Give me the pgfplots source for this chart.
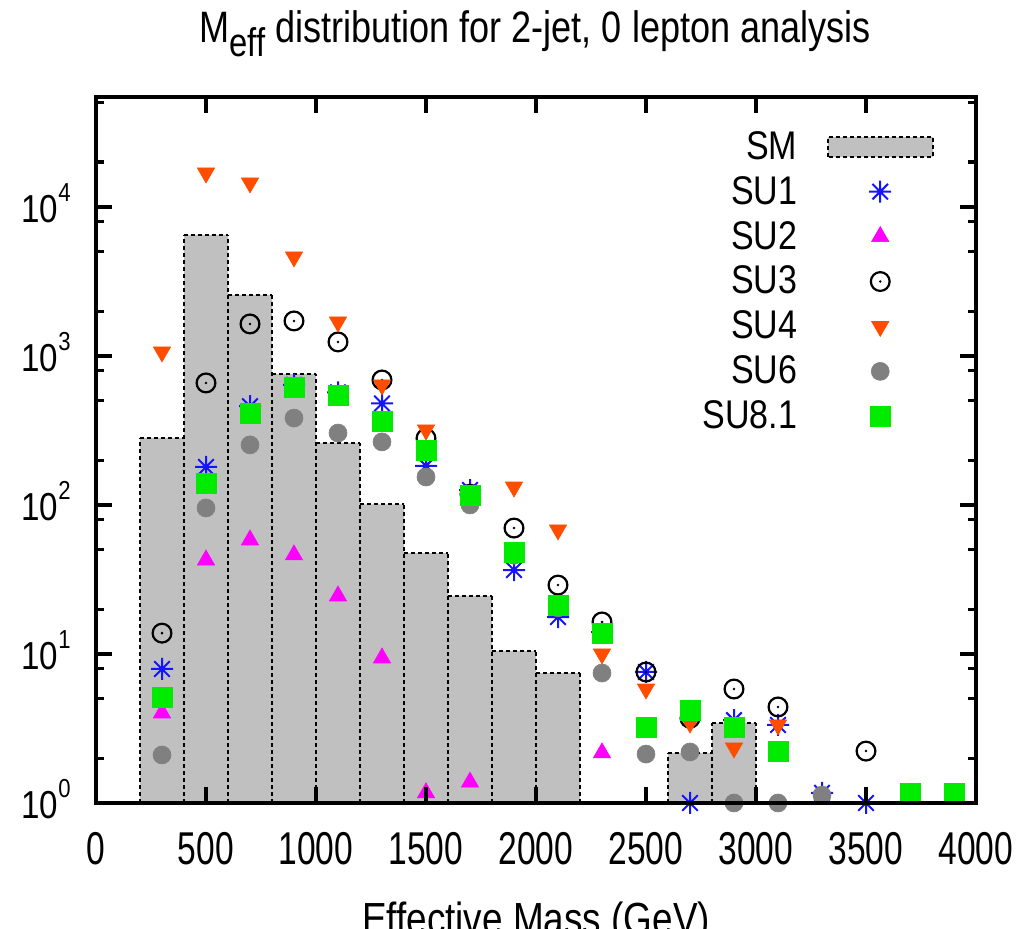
\documentclass[border=0pt]{standalone}
\usepackage{fontspec}
\setmainfont{Liberation Sans}[FakeStretch=0.82]
\newfontfamily\fX{Liberation Sans}[FakeStretch=0.73]
\newfontfamily\fY{Liberation Sans}[FakeStretch=0.85]
\newfontfamily\fL{Liberation Sans}[FakeStretch=0.85]
\usepackage{pgfplots}
\pgfplotsset{compat=1.18}
\definecolor{smgray}{RGB}{192,192,192}
\definecolor{cSUa}{RGB}{20,20,255}
\definecolor{cSUb}{RGB}{255,0,255}
\definecolor{cSUd}{RGB}{255,77,0}
\definecolor{cSUf}{RGB}{128,128,128}
\definecolor{cSUh}{RGB}{0,235,0}
\pgfdeclareplotmark{star8}{%
  \pgfpathmoveto{\pgfpointpolar{0}{\pgfplotmarksize}}\pgfpathlineto{\pgfpointpolar{180}{\pgfplotmarksize}}%
  \pgfpathmoveto{\pgfpointpolar{90}{\pgfplotmarksize}}\pgfpathlineto{\pgfpointpolar{270}{\pgfplotmarksize}}%
  \pgfpathmoveto{\pgfpointpolar{45}{\pgfplotmarksize}}\pgfpathlineto{\pgfpointpolar{225}{\pgfplotmarksize}}%
  \pgfpathmoveto{\pgfpointpolar{135}{\pgfplotmarksize}}\pgfpathlineto{\pgfpointpolar{315}{\pgfplotmarksize}}%
  \pgfusepathqstroke}
\pgfdeclareplotmark{odot}{%
  \pgfpathcircle{\pgfpointorigin}{\pgfplotmarksize}\pgfusepathqstroke
  \pgfpathcircle{\pgfpointorigin}{0.7pt}\pgfusepathqfill}
\pgfplotsset{
  markleg/.style={legend image code/.code={\draw[##1] plot coordinates {(26pt,0pt)};}},
  barleg/.style={legend image code/.code={\draw[fill=smgray, draw=black, dash pattern=on 2pt off 1.5pt, line width=1pt] (0pt,-5pt) rectangle (52.5pt,5pt);}},
  smedge/.style={draw=black, dash pattern=on 2pt off 1.5pt, line width=1pt, forget plot},
}
\begin{document}
\begin{tikzpicture}
\path[use as bounding box] (0,0) rectangle (514.5pt,464.5pt);
\begin{axis}[
  at={(48pt,63pt)}, anchor=south west,
  scale only axis, width=440pt, height=353pt,
  xmin=0, xmax=4000, ymode=log, ymin=1, ymax=54700,
  axis on top, clip mode=individual,
  axis line style={line width=1.6pt},
  every tick/.style={black, line width=1.6pt},
  major tick length=8pt, minor tick length=4pt,
  xtick={0,500,...,4000},
  ytick={1,10,100,1000,10000},
  yticklabels={{10\raisebox{10.5pt}{\fontsize{13pt}{13pt}\selectfont 0}},
               {10\raisebox{10.5pt}{\fontsize{13pt}{13pt}\selectfont 1}},
               {10\raisebox{10.5pt}{\fontsize{13pt}{13pt}\selectfont 2}},
               {10\raisebox{10.5pt}{\fontsize{13pt}{13pt}\selectfont 3}},
               {10\raisebox{10.5pt}{\fontsize{13pt}{13pt}\selectfont 4}}},
  minor ytick={2,5,8,20,50,80,200,500,800,2000,5000,8000,20000,50000},
  xticklabel style={font=\fX\fontsize{23pt}{23pt}\selectfont, anchor=base, yshift=-31pt, inner sep=0pt},
  yticklabel style={font=\fY\fontsize{19.5pt}{19.5pt}\selectfont, anchor=base east, inner sep=0pt, xshift=-12.5pt, yshift=-8pt},
  /pgf/number format/assume math mode=true,
  /pgf/number format/set thousands separator={},
  xlabel={Effective Mass (GeV)},
  xlabel style={at={(axis description cs:0.5,0)}, anchor=base, yshift=-66pt, inner sep=0pt, font=\fontsize{22.5pt}{22.5pt}\selectfont},
  legend style={draw=none, fill=none, at={(axis description cs:0.953,0.952)}, anchor=north east,
    inner sep=0pt, row sep=7pt, column sep=15pt, font=\fL\fontsize{20pt}{20pt}\selectfont,
    nodes={inner sep=0pt}},
  legend cell align=right, legend plot pos=right,
]
% SM histogram: fill
\addplot[ybar interval, fill=smgray, draw=none, barleg]
  coordinates {(200,282) (400,6490) (600,2570) (800,757) (1000,261) (1200,101) (1400,47.6) (1600,24.5) (1800,10.5) (2000,7.45) (2200,7.45)};
\addlegendentry{SM}
\addplot[ybar interval, fill=smgray, draw=none, forget plot]
  coordinates {(2600,2.17) (2800,3.44) (3000,3.44)};
% SM histogram: dashed bar tops
\addplot[jump mark left, smedge]
  coordinates {(200,282) (400,6490) (600,2570) (800,757) (1000,261) (1200,101) (1400,47.6) (1600,24.5) (1800,10.5) (2000,7.45) (2200,7.45)};
\addplot[jump mark left, smedge]
  coordinates {(2600,2.17) (2800,3.44) (3000,3.44)};
% SM histogram: dashed bar edges
\addplot[ycomb, smedge]
  coordinates {(200,282) (400,6490) (600,6490) (800,2570) (1000,757) (1200,261) (1400,101) (1600,47.6) (1800,24.5) (2000,10.5) (2200,7.45) (2600,2.17) (2800,3.44) (3000,3.44)};
% SU1
\addplot[only marks, mark=star8, mark size=5.5pt, color=cSUa, line width=1pt, markleg]
  coordinates {(300,7.93) (500,180) (700,460) (900,640) (1100,570) (1300,480) (1500,183) (1700,126) (1900,36.6) (2100,17.7) (2300,14) (2500,7.57) (2700,1.0) (2900,3.6) (3100,3.34) (3300,1.17) (3500,1.0)};
\addlegendentry{SU1}
% SU2
\addplot[only marks, mark=triangle*, mark size=5pt, color=cSUb, mark options={fill=cSUb, draw=cSUb, line width=0.3pt}, markleg]
  coordinates {(300,4.02) (500,42.7) (700,58.2) (900,46.2) (1100,24.5) (1300,9.4) (1500,1.17) (1700,1.38) (2300,2.17)};
\addlegendentry{SU2}
% SU3
\addplot[only marks, mark=odot, mark size=4.7pt, color=black, line width=1.1pt, markleg]
  coordinates {(300,13.8) (500,659) (700,1640) (900,1718) (1100,1242) (1300,690) (1500,280) (1700,118) (1900,70) (2100,29) (2300,16.4) (2500,7.57) (2700,3.7) (2900,5.82) (3100,4.41) (3500,2.23)};
\addlegendentry{SU3}
% SU4
\addplot[only marks, mark=triangle*, mark size=5pt, color=cSUd, mark options={rotate=180, fill=cSUd, draw=cSUd, line width=0.3pt}, markleg]
  coordinates {(300,1064) (500,16900) (700,14500) (900,4620) (1100,1690) (1300,639) (1500,319) (1700,122) (1900,132) (2100,68) (2300,10) (2500,5.82) (2700,3.44) (2900,2.34) (3100,3.34)};
\addlegendentry{SU4}
% SU6
\addplot[only marks, mark=*, mark size=4.5pt, color=cSUf, mark options={fill=cSUf, draw=cSUf, line width=0.3pt}, markleg]
  coordinates {(300,2.1) (500,95.5) (700,253) (900,383) (1100,304) (1300,265) (1500,154) (1700,100) (1900,46) (2100,20.4) (2300,7.45) (2500,2.13) (2700,2.2) (2900,1.0) (3100,1.0) (3300,1.13)};
\addlegendentry{SU6}
% SU8.1
\addplot[only marks, mark=square*, mark size=5pt, color=cSUh, mark options={fill=cSUh, draw=cSUh, line width=0.3pt}, markleg]
  coordinates {(300,5.15) (500,140.6) (700,414) (900,620) (1100,547) (1300,366) (1500,234) (1700,117) (1900,48.4) (2100,21.3) (2300,13.8) (2500,3.24) (2700,4.21) (2900,3.24) (3100,2.23) (3700,1.17) (3900,1.17)};
\addlegendentry{SU8.1}
\end{axis}
\node[anchor=base, inner sep=0pt, font=\fontsize{22pt}{22pt}\selectfont] at (267.5pt,443pt)
  {M\raisebox{-7pt}{\fontsize{20pt}{20pt}\selectfont eff} distribution for 2-jet, 0 lepton analysis};
\end{tikzpicture}
\end{document}
